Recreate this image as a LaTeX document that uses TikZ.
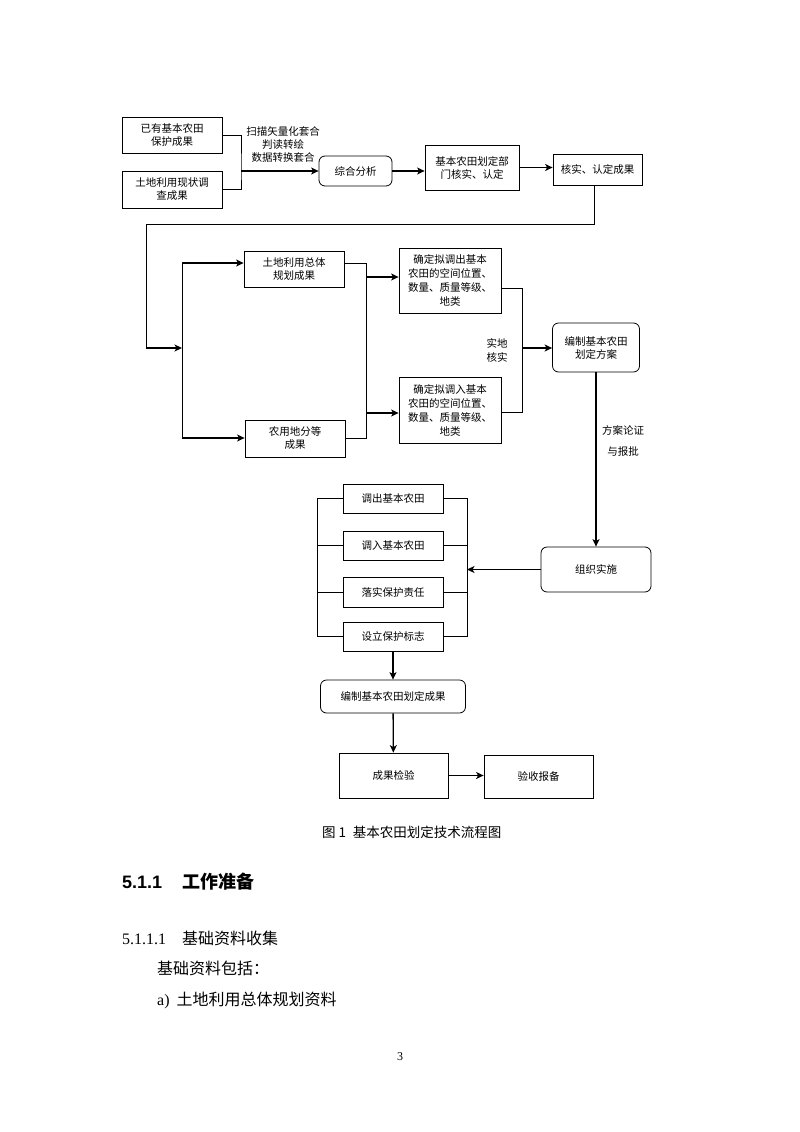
\documentclass[tikz,border=0pt]{standalone}
\usepackage{fontspec}
\usetikzlibrary{arrows.meta}
\setmainfont{Liberation Serif}
\setsansfont{Liberation Sans}
\newfontfamily\cjk{Noto Sans CJK SC}

\tikzset{
    box/.style 2 args={draw, line width=0.8pt, minimum width=#1pt, minimum height=#2pt,
        inner sep=0pt, align=center, font=\cjk\fontsize{10.5}{13}\selectfont},
    rbox/.style 2 args={box={#1}{#2}, rounded corners=6pt},
    tallbox/.style 2 args={box={#1}{#2}, font=\cjk\fontsize{10.5}{14}\selectfont},
    lbl/.style={align=center, inner sep=0pt, font=\cjk\fontsize{10.5}{13}\selectfont},
    line/.style={line width=0.9pt},
    arr/.style={->, line width=1.3pt}
}

\begin{document}
\begin{tikzpicture}[x=1pt, y=-1pt, >={Stealth[length=7.5pt, width=7pt, inset=2pt]}]
    \useasboundingbox (0,0) rectangle (800,1132);

    % first row
    \node (yyjg) at (172,135) [box={100}{36}] {已有基本农田\\保护成果};
    \node (xzdc) at (172,189.5) [box={100}{37}] {土地利用现状调\\查成果};
    \node (zhfx) at (355.5,171) [rbox={73}{30}] {综合分析};
    \node (bmhs) at (472,167.5) [box={94}{45}] {基本农田划定部\\门核实、认定};
    \node (hsrd) at (597.5,169.5) [box={89}{31}] {核实、认定成果};
    \node (smtl) at (283,144) [lbl] {扫描矢量化套合\\判读转绘\\数据转换套合};
    \coordinate (j1) at (241,171);
    \draw [line] (yyjg) -| (j1) |- (xzdc);
    \draw [arr] (j1) -- (zhfx);
    \draw [arr] (zhfx) -- (zhfx -| bmhs.west);
    \draw [arr] (bmhs) -- (bmhs -| hsrd.west);

    % second block
    \node (ztgh) at (294,269) [box={100}{36}] {土地利用总体\\规划成果};
    \node (fdcg) at (295,438.5) [box={100}{37}] {农用地分等\\成果};
    \node (dcfa) at (450,280.5) [tallbox={102}{65}] {确定拟调出基本\\农田的空间位置、\\数量、质量等级、\\地类};
    \node (drfa) at (450,410) [tallbox={102}{66}] {确定拟调入基本\\农田的空间位置、\\数量、质量等级、\\地类};
    \node (bzfa) at (596,347.5) [rbox={87}{49}] {编制基本农田\\划定方案};
    \node (sdhs) at (497,350) [lbl, font=\cjk\fontsize{10.5}{14}\selectfont] {实地\\核实};
    \coordinate (t1) at (594,224);
    \coordinate (t2) at (146,224);
    \coordinate (t3) at (146,348);
    \coordinate (j2) at (182,348);
    \draw [line] (hsrd.south -| t1) -- (t1) -- (t2) -- (t3);
    \draw [arr] (t3) -- (j2);
    \coordinate (j3) at (182,263);
    \coordinate (j4) at (182,438);
    \draw [line] (j3) -- (j4);
    \draw [arr] (j3) -- (j3 -| ztgh.west);
    \draw [arr] (j4) -- (j4 -| fdcg.west);
    \coordinate (k1) at (366,263);
    \coordinate (k2) at (366,438);
    \coordinate (k3) at (366,277);
    \coordinate (k4) at (366,413);
    \draw [line] (k1 -| ztgh.east) -- (k1) -- (k2) -- (k2 -| fdcg.east);
    \draw [arr] (k3) -- (k3 -| dcfa.west);
    \draw [arr] (k4) -- (k4 -| drfa.west);
    \coordinate (m1) at (522,288);
    \coordinate (m2) at (522,412);
    \coordinate (m3) at (522,348);
    \draw [line] (m1 -| dcfa.east) -- (m1) -- (m2) -- (m2 -| drfa.east);
    \draw [arr] (m3) -- (m3 -| bzfa.west);

    % third block
    \node (zzss) at (596,569.5) [rbox={110}{45}] {组织实施};
    \node (falz) at (623,440.5) [lbl, font=\cjk\fontsize{10.5}{21}\selectfont] {方案论证\\与报批};
    \draw [arr] (bzfa) -- (zzss);
    \node (dcnt) at (393,498.5) [box={100}{29}] {调出基本农田};
    \node (drnt) at (393,545.5) [box={100}{29}] {调入基本农田};
    \node (lszr) at (393,592) [box={100}{30}] {落实保护责任};
    \node (bzbz) at (393,636.5) [box={100}{29}] {设立保护标志};
    \coordinate (lb) at (317,636.5);
    \coordinate (rb) at (467,636.5);
    \draw [line] (dcnt.west) -| (lb) -- (bzbz.west);
    \draw [line] (drnt.west) -- (drnt.west -| lb);
    \draw [line] (lszr.west) -- (lszr.west -| lb);
    \draw [line] (dcnt.east) -| (rb) -- (bzbz.east);
    \draw [line] (drnt.east) -- (drnt.east -| rb);
    \draw [line] (lszr.east) -- (lszr.east -| rb);
    \draw [arr] (zzss) -- (zzss -| rb);

    % last rows
    \node (bzcg) at (393,696.5) [rbox={145}{33}] {编制基本农田划定成果};
    \node (cgjy) at (393.5,775.5) [box={109}{45}] {成果检验};
    \node (ysbb) at (538.5,776.5) [box={109}{43}] {验收报备};
    \draw [arr] (bzbz) -- (bzcg);
    \draw [arr] (bzcg) -- (cgjy);
    \draw [arr] (cgjy) -- (cgjy -| ysbb.west);

    % caption and text below
    \node (tt) at (322,832) [anchor=west, inner sep=0pt, font=\cjk\fontsize{13.5}{16}\selectfont] {图 1\enspace 基本农田划定技术流程图};
    \node (h1) at (122,882) [anchor=west, inner sep=0pt, font=\fontsize{18}{22}\selectfont]
        {\makebox[60pt][l]{\sffamily\bfseries 5.1.1}{\cjk\bfseries 工作准备}};
    \node (h2) at (122,938) [anchor=west, inner sep=0pt, font=\fontsize{16}{20}\selectfont]
        {\makebox[60pt][l]{5.1.1.1}{\cjk 基础资料收集}};
    \node (p1) at (157,968) [anchor=west, inner sep=0pt, font=\fontsize{16}{20}\selectfont] {{\cjk 基础资料包括：}};
    \node (p2) at (157,1000) [anchor=west, inner sep=0pt, font=\fontsize{16}{20}\selectfont] {a)\hspace{7pt}{\cjk 土地利用总体规划资料}};
    \node (pg) at (400,1057) [inner sep=0pt, font=\fontsize{12}{14}\selectfont] {3};
\end{tikzpicture}
\end{document}
